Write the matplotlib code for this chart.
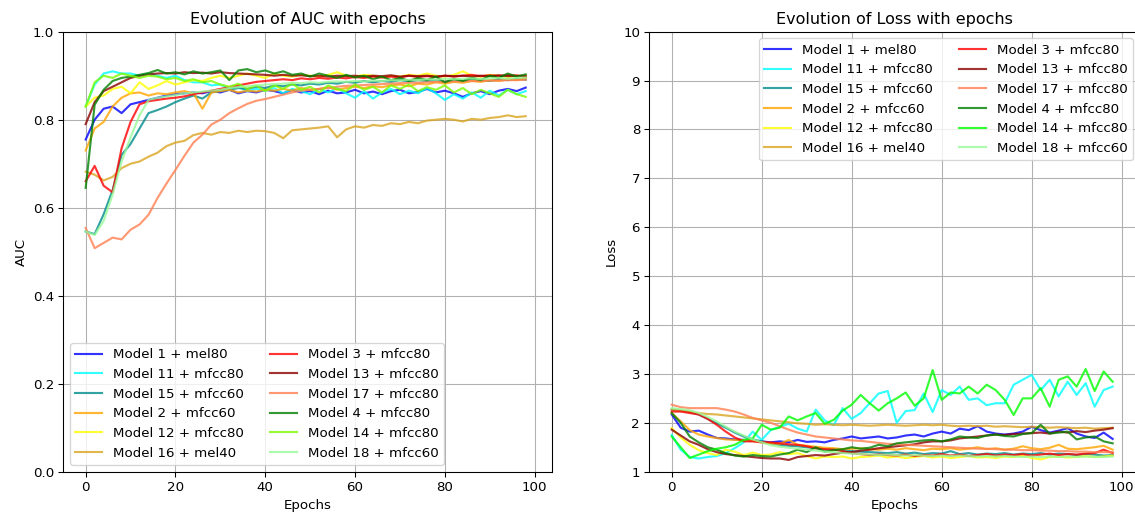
import numpy as np
import matplotlib
matplotlib.use("Agg")
import matplotlib.pyplot as plt

# epochs sampled every 2 steps
epochs = np.arange(0, 100, 2)

labels = ["Model 1 + mel80", "Model 11 + mfcc80", "Model 15 + mfcc60",
          "Model 2 + mfcc60", "Model 12 + mfcc80", "Model 16 + mel40",
          "Model 3 + mfcc80", "Model 13 + mfcc80", "Model 17 + mfcc80",
          "Model 4 + mfcc80", "Model 14 + mfcc80", "Model 18 + mfcc60"]

auc_colors = ["blue", "cyan", "darkcyan", "orange", "yellow", "goldenrod",
              "red", "darkred", "coral", "green", "lawngreen", "palegreen"]
loss_colors = ["blue", "cyan", "darkcyan", "orange", "yellow", "goldenrod",
               "red", "darkred", "coral", "green", "lime", "palegreen"]

# AUC values
auc_m1 = [0.755, 0.80, 0.825, 0.83, 0.815, 0.835, 0.84, 0.845, 0.85, 0.855,
          0.858, 0.86, 0.862, 0.86, 0.865, 0.862, 0.868, 0.86, 0.865, 0.862,
          0.868, 0.865, 0.86, 0.868, 0.862, 0.865, 0.858, 0.866, 0.86, 0.862,
          0.868, 0.86, 0.864, 0.858, 0.865, 0.868, 0.86, 0.863, 0.87, 0.862,
          0.866, 0.86, 0.852, 0.86, 0.865, 0.858, 0.866, 0.87, 0.865, 0.873]
auc_m11 = [0.83, 0.88, 0.905, 0.91, 0.905, 0.905, 0.90, 0.905, 0.90, 0.895,
           0.90, 0.89, 0.885, 0.885, 0.878, 0.88, 0.87, 0.875, 0.865, 0.87,
           0.866, 0.872, 0.86, 0.87, 0.865, 0.858, 0.87, 0.862, 0.872, 0.86,
           0.85, 0.865, 0.848, 0.862, 0.87, 0.858, 0.866, 0.86, 0.872, 0.86,
           0.845, 0.858, 0.848, 0.862, 0.85, 0.866, 0.855, 0.868, 0.858, 0.865]
auc_m15 = [0.546, 0.54, 0.585, 0.64, 0.72, 0.745, 0.78, 0.815, 0.822, 0.83,
           0.84, 0.848, 0.855, 0.848, 0.862, 0.866, 0.868, 0.872, 0.87, 0.875,
           0.872, 0.878, 0.876, 0.88, 0.878, 0.882, 0.88, 0.884, 0.882, 0.886,
           0.884, 0.888, 0.885, 0.888, 0.886, 0.89, 0.887, 0.89, 0.888, 0.89,
           0.886, 0.89, 0.888, 0.892, 0.89, 0.888, 0.892, 0.89, 0.893, 0.891]
auc_m2 = [0.73, 0.78, 0.795, 0.83, 0.85, 0.86, 0.862, 0.855, 0.86, 0.858,
          0.862, 0.865, 0.86, 0.825, 0.862, 0.865, 0.868, 0.862, 0.866, 0.864,
          0.868, 0.866, 0.87, 0.866, 0.872, 0.868, 0.87, 0.874, 0.868, 0.872,
          0.875, 0.872, 0.876, 0.874, 0.878, 0.88, 0.876, 0.882, 0.88, 0.885,
          0.882, 0.886, 0.884, 0.888, 0.886, 0.89, 0.888, 0.892, 0.89, 0.895]
auc_m12 = [0.83, 0.85, 0.855, 0.87, 0.875, 0.86, 0.885, 0.87, 0.878, 0.888,
           0.88, 0.885, 0.89, 0.888, 0.895, 0.90, 0.895, 0.90, 0.905, 0.90,
           0.895, 0.905, 0.90, 0.898, 0.902, 0.90, 0.898, 0.902, 0.908, 0.90,
           0.898, 0.902, 0.90, 0.896, 0.90, 0.898, 0.902, 0.90, 0.905, 0.90,
           0.898, 0.902, 0.91, 0.90, 0.898, 0.902, 0.90, 0.897, 0.90, 0.898]
auc_m16 = [0.682, 0.675, 0.662, 0.67, 0.69, 0.70, 0.705, 0.716, 0.725, 0.74,
           0.748, 0.752, 0.765, 0.77, 0.766, 0.772, 0.77, 0.775, 0.772, 0.775,
           0.774, 0.77, 0.758, 0.776, 0.778, 0.78, 0.782, 0.785, 0.76, 0.778,
           0.785, 0.782, 0.788, 0.786, 0.792, 0.79, 0.795, 0.792, 0.798, 0.80,
           0.802, 0.80, 0.796, 0.802, 0.80, 0.804, 0.806, 0.81, 0.806, 0.808]
auc_m3 = [0.66, 0.695, 0.65, 0.635, 0.735, 0.795, 0.835, 0.842, 0.845, 0.848,
          0.85, 0.853, 0.858, 0.862, 0.866, 0.87, 0.874, 0.878, 0.882, 0.886,
          0.888, 0.89, 0.892, 0.89, 0.894, 0.892, 0.895, 0.893, 0.896, 0.894,
          0.897, 0.895, 0.898, 0.896, 0.898, 0.896, 0.90, 0.897, 0.899, 0.897,
          0.90, 0.898, 0.90, 0.902, 0.899, 0.901, 0.899, 0.902, 0.90, 0.90]
auc_m13 = [0.79, 0.84, 0.865, 0.875, 0.885, 0.895, 0.90, 0.903, 0.905, 0.906,
           0.905, 0.908, 0.906, 0.907, 0.905, 0.908, 0.906, 0.905, 0.904, 0.903,
           0.902, 0.90, 0.902, 0.90, 0.901, 0.899, 0.90, 0.898, 0.90, 0.899,
           0.90, 0.898, 0.90, 0.899, 0.901, 0.898, 0.90, 0.899, 0.90, 0.898,
           0.90, 0.899, 0.90, 0.898, 0.90, 0.899, 0.901, 0.899, 0.90, 0.898]
auc_m17 = [0.554, 0.508, 0.52, 0.532, 0.528, 0.55, 0.562, 0.584, 0.622, 0.655,
           0.686, 0.718, 0.748, 0.766, 0.789, 0.80, 0.815, 0.826, 0.836, 0.843,
           0.847, 0.852, 0.857, 0.862, 0.866, 0.868, 0.87, 0.872, 0.875, 0.877,
           0.878, 0.879, 0.88, 0.881, 0.882, 0.883, 0.884, 0.884, 0.885, 0.886,
           0.886, 0.887, 0.887, 0.888, 0.888, 0.889, 0.889, 0.89, 0.89, 0.891]
auc_m4 = [0.645, 0.834, 0.868, 0.888, 0.895, 0.898, 0.902, 0.906, 0.913, 0.905,
          0.908, 0.903, 0.91, 0.905, 0.908, 0.912, 0.89, 0.912, 0.915, 0.908,
          0.912, 0.905, 0.91, 0.902, 0.905, 0.898, 0.905, 0.90, 0.895, 0.902,
          0.896, 0.90, 0.892, 0.898, 0.89, 0.895, 0.888, 0.895, 0.89, 0.898,
          0.885, 0.893, 0.888, 0.895, 0.89, 0.90, 0.895, 0.905, 0.898, 0.903]
auc_m14 = [0.83, 0.885, 0.90, 0.895, 0.905, 0.90, 0.895, 0.90, 0.898, 0.892,
           0.895, 0.888, 0.892, 0.885, 0.888, 0.88, 0.875, 0.882, 0.87, 0.878,
           0.865, 0.878, 0.87, 0.882, 0.868, 0.875, 0.862, 0.878, 0.87, 0.865,
           0.88, 0.868, 0.875, 0.862, 0.878, 0.87, 0.88, 0.865, 0.874, 0.868,
           0.878, 0.862, 0.872, 0.858, 0.868, 0.86, 0.852, 0.868, 0.858, 0.852]
auc_m18 = [0.546, 0.538, 0.57, 0.63, 0.705, 0.76, 0.81, 0.845, 0.85, 0.853,
           0.856, 0.86, 0.862, 0.864, 0.866, 0.868, 0.872, 0.874, 0.876, 0.878,
           0.88, 0.881, 0.882, 0.884, 0.883, 0.885, 0.884, 0.886, 0.887, 0.886,
           0.888, 0.887, 0.889, 0.888, 0.89, 0.889, 0.891, 0.89, 0.892, 0.891,
           0.893, 0.892, 0.893, 0.894, 0.892, 0.894, 0.895, 0.893, 0.895, 0.896]

# Loss values
loss_m1 = [2.17, 1.90, 1.82, 1.84, 1.76, 1.69, 1.68, 1.66, 1.65, 1.63,
           1.62, 1.60, 1.62, 1.60, 1.65, 1.61, 1.62, 1.60, 1.65, 1.68,
           1.72, 1.68, 1.70, 1.72, 1.68, 1.70, 1.74, 1.76, 1.72, 1.78,
           1.82, 1.78, 1.88, 1.85, 1.93, 1.82, 1.78, 1.76, 1.78, 1.82,
           1.92, 1.85, 1.80, 1.84, 1.89, 1.78, 1.72, 1.69, 1.80, 1.67]
loss_m11 = [1.75, 1.45, 1.30, 1.27, 1.30, 1.32, 1.38, 1.48, 1.60, 1.82,
            1.65, 1.85, 1.92, 1.98, 1.88, 1.82, 2.27, 2.05, 1.95, 2.30,
            2.08, 2.20, 2.40, 2.60, 2.65, 2.00, 2.24, 2.26, 2.60, 2.22,
            2.67, 2.57, 2.74, 2.47, 2.50, 2.36, 2.40, 2.40, 2.78, 2.88,
            2.98, 2.67, 2.88, 2.54, 2.84, 2.57, 2.81, 2.33, 2.67, 2.74]
loss_m15 = [2.27, 2.25, 2.22, 2.17, 2.08, 1.99, 1.90, 1.80, 1.72, 1.66,
            1.62, 1.58, 1.55, 1.53, 1.52, 1.50, 1.48, 1.45, 1.46, 1.44,
            1.42, 1.41, 1.40, 1.39, 1.38, 1.40, 1.37, 1.39, 1.36, 1.38,
            1.37, 1.42, 1.36, 1.38, 1.35, 1.37, 1.36, 1.38, 1.35, 1.37,
            1.36, 1.38, 1.35, 1.37, 1.36, 1.34, 1.36, 1.35, 1.33, 1.34]
loss_m2 = [2.20, 2.03, 1.85, 1.76, 1.72, 1.69, 1.66, 1.65, 1.65, 1.63,
           1.60, 1.58, 1.57, 1.65, 1.55, 1.53, 1.51, 1.49, 1.48, 1.46,
           1.47, 1.48, 1.46, 1.45, 1.47, 1.45, 1.48, 1.46, 1.44, 1.47,
           1.46, 1.48, 1.45, 1.47, 1.50, 1.46, 1.48, 1.45, 1.47, 1.52,
           1.48, 1.46, 1.49, 1.55, 1.47, 1.46, 1.48, 1.50, 1.53, 1.45]
loss_m12 = [1.89, 1.70, 1.55, 1.44, 1.38, 1.34, 1.45, 1.41, 1.34, 1.39,
            1.34, 1.35, 1.40, 1.36, 1.38, 1.32, 1.27, 1.31, 1.30, 1.31,
            1.27, 1.30, 1.31, 1.33, 1.29, 1.31, 1.28, 1.30, 1.32, 1.29,
            1.31, 1.28, 1.30, 1.32, 1.29, 1.30, 1.28, 1.31, 1.30, 1.33,
            1.28, 1.25, 1.30, 1.31, 1.29, 1.30, 1.32, 1.30, 1.31, 1.33]
loss_m16 = [2.27, 2.25, 2.22, 2.20, 2.18, 2.17, 2.15, 2.13, 2.11, 2.09,
            2.07, 2.05, 2.03, 2.01, 1.99, 1.98, 1.96, 1.97, 1.96, 1.95,
            1.96, 1.95, 1.94, 1.95, 1.96, 1.95, 1.94, 1.95, 1.96, 1.95,
            1.96, 1.94, 1.93, 1.94, 1.93, 1.94, 1.92, 1.93, 1.92, 1.91,
            1.92, 1.91, 1.90, 1.91, 1.90, 1.89, 1.90, 1.88, 1.89, 1.90]
loss_m3 = [2.23, 2.23, 2.20, 2.17, 2.08, 1.96, 1.82, 1.70, 1.62, 1.62,
           1.60, 1.60, 1.58, 1.56, 1.55, 1.52, 1.48, 1.46, 1.45, 1.42,
           1.38, 1.36, 1.34, 1.35, 1.34, 1.33, 1.35, 1.32, 1.34, 1.33,
           1.36, 1.33, 1.35, 1.32, 1.34, 1.36, 1.33, 1.35, 1.34, 1.36,
           1.33, 1.35, 1.37, 1.34, 1.36, 1.35, 1.37, 1.38, 1.45, 1.38]
loss_m13 = [1.86, 1.74, 1.62, 1.55, 1.46, 1.40, 1.36, 1.34, 1.32, 1.30,
            1.28, 1.27, 1.27, 1.24, 1.30, 1.32, 1.34, 1.33, 1.36, 1.39,
            1.40, 1.43, 1.45, 1.48, 1.50, 1.52, 1.54, 1.56, 1.60, 1.62,
            1.62, 1.64, 1.68, 1.70, 1.72, 1.74, 1.76, 1.75, 1.77, 1.78,
            1.79, 1.80, 1.78, 1.82, 1.80, 1.83, 1.81, 1.84, 1.86, 1.89]
loss_m17 = [2.37, 2.32, 2.30, 2.30, 2.30, 2.30, 2.27, 2.23, 2.17, 2.10,
            2.05, 2.00, 1.93, 1.86, 1.80, 1.76, 1.72, 1.70, 1.68, 1.66,
            1.64, 1.63, 1.61, 1.59, 1.57, 1.56, 1.55, 1.54, 1.53, 1.52,
            1.51, 1.50, 1.49, 1.48, 1.47, 1.47, 1.46, 1.45, 1.45, 1.44,
            1.44, 1.43, 1.43, 1.42, 1.42, 1.41, 1.41, 1.40, 1.40, 1.40]
loss_m4 = [2.20, 2.00, 1.72, 1.60, 1.50, 1.45, 1.38, 1.33, 1.31, 1.34,
           1.32, 1.31, 1.35, 1.38, 1.45, 1.40, 1.50, 1.41, 1.44, 1.46,
           1.50, 1.47, 1.49, 1.55, 1.52, 1.58, 1.60, 1.62, 1.64, 1.65,
           1.62, 1.66, 1.72, 1.70, 1.69, 1.74, 1.76, 1.73, 1.72, 1.77,
           1.79, 1.96, 1.78, 1.80, 1.82, 1.66, 1.70, 1.72, 1.62, 1.58]
loss_m14 = [1.72, 1.50, 1.28, 1.35, 1.42, 1.47, 1.50, 1.55, 1.65, 1.68,
            1.96, 1.86, 1.90, 2.13, 2.05, 2.13, 2.20, 1.98, 2.06, 2.25,
            2.37, 2.57, 2.40, 2.25, 2.40, 2.50, 2.62, 2.35, 2.50, 3.08,
            2.47, 2.62, 2.60, 2.74, 2.60, 2.78, 2.67, 2.47, 2.16, 2.50,
            2.50, 2.71, 2.33, 2.88, 2.95, 2.74, 3.10, 2.65, 3.05, 2.84]
loss_m18 = [2.30, 2.28, 2.26, 2.20, 2.12, 2.03, 1.92, 1.82, 1.74, 1.66,
            1.60, 1.54, 1.51, 1.49, 1.47, 1.45, 1.43, 1.41, 1.40, 1.38,
            1.37, 1.36, 1.35, 1.34, 1.35, 1.34, 1.33, 1.34, 1.33, 1.32,
            1.33, 1.32, 1.33, 1.32, 1.31, 1.32, 1.31, 1.32, 1.31, 1.30,
            1.31, 1.30, 1.31, 1.30, 1.31, 1.30, 1.31, 1.30, 1.30, 1.31]

auc_data = [auc_m1, auc_m11, auc_m15, auc_m2, auc_m12, auc_m16,
            auc_m3, auc_m13, auc_m17, auc_m4, auc_m14, auc_m18]
loss_data = [loss_m1, loss_m11, loss_m15, loss_m2, loss_m12, loss_m16,
             loss_m3, loss_m13, loss_m17, loss_m4, loss_m14, loss_m18]

plt.rcParams['font.family'] = ['DejaVu Sans']
plt.rcParams['font.size'] = 10

fig = plt.figure(figsize=(1135 / 96, 515 / 96), dpi=96)
ax1 = fig.add_axes([0.0559, 0.0841, 0.4308, 0.8543])
ax2 = fig.add_axes([0.5722, 0.0841, 0.4317, 0.8543])

# AUC panel
for vals, lab, col in zip(auc_data, labels, auc_colors):
    ax1.plot(epochs, vals, color=col, label=lab, linewidth=1.6, alpha=0.8)
ax1.set_title('Evolution of AUC with epochs')
ax1.set_xlabel('Epochs')
ax1.set_ylabel('AUC')
ax1.set_ylim(0, 1)
ax1.set_xlim(-4.95, 103.95)
ax1.grid(True)
ax1.legend(loc='lower left', ncol=2)

# Loss panel
for vals, lab, col in zip(loss_data, labels, loss_colors):
    ax2.plot(epochs, vals, color=col, label=lab, linewidth=1.6, alpha=0.8)
ax2.set_title('Evolution of Loss with epochs')
ax2.set_xlabel('Epochs')
ax2.set_ylabel('Loss')
ax2.set_ylim(1, 10)
ax2.set_xlim(-4.95, 103.95)
ax2.set_yticks(range(1, 11))
ax2.grid(True)
ax2.legend(loc='upper right', ncol=2)

fig.savefig('out.png', dpi=96)
